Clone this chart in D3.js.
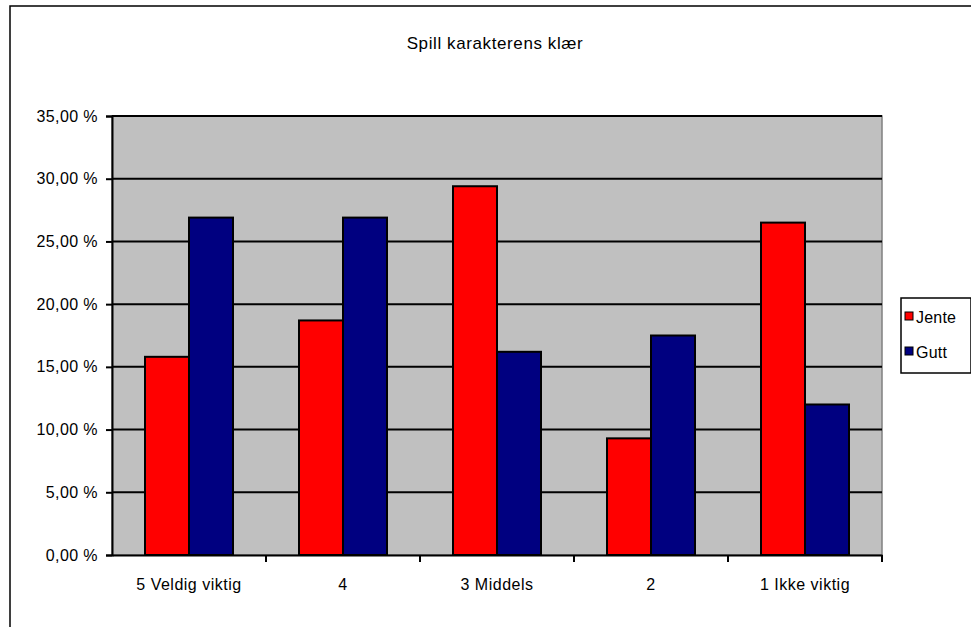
<!DOCTYPE html>
<html>
<head>
<meta charset="utf-8">
<script src="https://cdn.jsdelivr.net/npm/d3@7"></script>
<style>
	body { margin: 0; background: #fff; }
	text { font-family: "Liberation Sans", Arial, sans-serif; fill: #000; }
</style>
</head>
<body>
<svg id="chart" width="971" height="627"></svg>
<script>
var windowW = 971;
var windowH = 627;

// data
var categories = ["5 Veldig viktig", "4", "3 Middels", "2", "1 Ikke viktig"];
var seriesNames = ["Jente", "Gutt"];
var jenteValues = [15.8, 18.7, 29.4, 9.3, 26.5];
var gutValues = [26.9, 26.9, 16.2, 17.5, 12.0];
var yTicks = [0, 5, 10, 15, 20, 25, 30, 35];

var redColor = "#FF0000";
var blueColor = "#000080";
var plotBGColor = "#C0C0C0";

var plot = {left: 112, right: 882, top: 116, bottom: 555};

var svg = d3.select("#chart");

//////// outer frame
svg.append("rect")
	.attr("x", 10)
	.attr("y", 6)
	.attr("width", windowW)
	.attr("height", windowH)
	.attr("fill", "#fff")
	.attr("stroke", "#000")
	.attr("stroke-width", 1.5);

svg.append("text")
	.attr("x", 495)
	.attr("y", 49)
	.attr("text-anchor", "middle")
	.style("font-size", "17px")
	.style("letter-spacing", "0.6px")
	.text("Spill karakterens klær");

//////// scales
var x = d3.scaleBand()
	.domain(categories)
	.range([plot.left, plot.right])
	.padding(0);

var y = d3.scaleLinear()
	.domain([0, 35])
	.range([plot.bottom, plot.top]);

var barW = x.bandwidth() / 3.5;
var barOffset = x.bandwidth() * 0.75 / 3.5;

var series = d3.scaleBand()
	.domain(seriesNames)
	.range([0, barW * 2]);

var color = d3.scaleOrdinal()
	.domain(seriesNames)
	.range([redColor, blueColor]);

//////// plot area
svg.append("rect")
	.attr("x", plot.left)
	.attr("y", plot.top)
	.attr("width", plot.right - plot.left)
	.attr("height", plot.bottom - plot.top)
	.attr("fill", plotBGColor)
	.attr("stroke", "#808080")
	.attr("stroke-width", 1.5);

svg.append("g")
	.selectAll("line")
	.data(yTicks.filter(d => d > 0))
	.join("line")
	.attr("x1", plot.left)
	.attr("x2", plot.right)
	.attr("y1", d => y(d))
	.attr("y2", d => y(d))
	.attr("stroke", "#000")
	.attr("stroke-width", 2);

//////// bars
var rows = categories.map(function(c, i) {
	return {category: c, values: [
		{name: "Jente", value: jenteValues[i]},
		{name: "Gutt", value: gutValues[i]}
	]};
});

svg.append("g")
	.selectAll("g")
	.data(rows)
	.join("g")
	.attr("transform", d => "translate(" + (x(d.category) + barOffset) + ",0)")
	.selectAll("rect")
	.data(d => d.values)
	.join("rect")
	.attr("x", d => series(d.name))
	.attr("y", d => y(d.value))
	.attr("width", series.bandwidth())
	.attr("height", d => y(0) - y(d.value))
	.attr("fill", d => color(d.name))
	.attr("stroke", "#000")
	.attr("stroke-width", 2);

//////// axes
var yAxis = d3.axisLeft(y)
	.tickValues(yTicks)
	.tickSize(6)
	.tickPadding(8)
	.tickFormat(d => d3.format(".2f")(d).replace(".", ",") + " %");

var gy = svg.append("g")
	.attr("transform", "translate(" + plot.left + ",0)")
	.call(yAxis);

gy.selectAll("line").attr("stroke", "#000").attr("stroke-width", 2);
gy.select(".domain").attr("stroke", "#000").attr("stroke-width", 2);
gy.selectAll("text")
	.style("font-size", "16px")
	.style("letter-spacing", "0.4px")
	.style("font-family", "\"Liberation Sans\", Arial, sans-serif");

var xAxis = d3.axisBottom(x)
	.tickSize(0)
	.tickPadding(24);

var gx = svg.append("g")
	.attr("transform", "translate(0," + plot.bottom + ")")
	.call(xAxis);

gx.select(".domain").attr("stroke", "#000").attr("stroke-width", 2);
gx.selectAll("text")
	.style("font-size", "16px")
	.style("letter-spacing", "0.5px")
	.style("font-family", "\"Liberation Sans\", Arial, sans-serif");

// category boundary ticks
gx.append("g")
	.selectAll("line")
	.data(categories.slice(1).map(c => x(c)).concat([plot.right]))
	.join("line")
	.attr("x1", d => d)
	.attr("x2", d => d)
	.attr("y1", 0)
	.attr("y2", 7)
	.attr("stroke", "#000")
	.attr("stroke-width", 2);

//////// legend
var legend = svg.append("g")
	.attr("transform", "translate(901,298)");

legend.append("rect")
	.attr("width", 70)
	.attr("height", 75)
	.attr("fill", "#fff")
	.attr("stroke", "#000")
	.attr("stroke-width", 1.5);

var items = legend.selectAll(".item")
	.data(seriesNames)
	.join("g")
	.attr("class", "item")
	.attr("transform", (d, i) => "translate(0," + (19 + i * 35) + ")");

items.append("rect")
	.attr("x", 4)
	.attr("y", -5)
	.attr("width", 8)
	.attr("height", 8)
	.attr("fill", d => color(d))
	.attr("stroke", "#000")
	.attr("stroke-width", 1);

items.append("text")
	.attr("x", 15)
	.attr("y", 6)
	.style("font-size", "16px")
	.style("letter-spacing", "0.2px")
	.text(d => d);
</script>
</body>
</html>
